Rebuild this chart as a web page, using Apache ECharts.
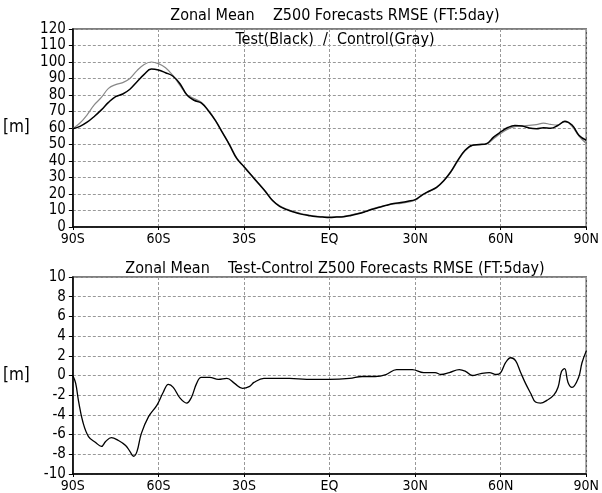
<!DOCTYPE html>
<html>
<head>
<meta charset="utf-8">
<script src="https://cdn.jsdelivr.net/npm/echarts@6/dist/echarts.min.js"></script>
<style>
  html, body { margin: 0; padding: 0; background: #fff; }
  #chart { width: 602px; height: 493px; }
</style>
</head>
<body>
<div id="chart"></div>
<script>
// latitude tick labels
const latTicks = { '-90': '90S', '-60': '60S', '-30': '30S', '0': 'EQ', '30': '30N', '60': '60N', '90': '90N' };

// top panel: RMSE (m), on a 2.5 degree grid
const latTop = [
  -90, -87.5, -85, -82.5, -80, -77.5, -75, -72.5, -70, -67.5, -65, -62.5, -60, -57.5, -55, -52.5,
  -50, -47.5, -45, -42.5, -40, -37.5, -35, -32.5, -30, -27.5, -25, -22.5, -20, -17.5, -15, -12.5,
  -10, -7.5, -5, -2.5, 0, 2.5, 5, 7.5, 10, 12.5, 15, 17.5, 20, 22.5, 25, 27.5,
  30, 32.5, 35, 37.5, 40, 42.5, 45, 47.5, 50, 52.5, 55, 57.5, 60, 62.5, 65, 67.5,
  70, 72.5, 75, 77.5, 80, 82.5, 85, 87.5, 90
];
const testRmse = [
  59.6, 61, 63.5, 67, 71, 75.5, 79, 80.6, 83.5, 88, 92.5, 95.8, 95.2, 93.5, 91.5, 87,
  80, 76.8, 75.2, 70.5, 64.5, 57, 49.5, 41.4, 36.5, 31.5, 26.5, 21.5, 16, 12.5, 10.5, 9,
  7.8, 7, 6.3, 6, 5.8, 6, 6.2, 7, 8, 9.3, 10.8, 12, 13.2, 14.2, 14.8, 15.6,
  16.6, 19.5, 21.8, 24, 28, 33.5, 40.5, 46.5, 49.6, 50, 50.5, 54.5, 57.6, 60.3, 61.5, 61.2,
  60, 59.6, 60.2, 59.8, 61.5, 64, 61.8, 55.5, 52.6
];
const controlRmse = [
  59.6, 63, 68, 74, 78.5, 84, 86.3, 87.5, 90, 94.8, 98.5, 100, 99, 96.5, 92, 86,
  80.2, 77.8, 75.6, 70.8, 64.7, 57.3, 49.8, 41.7, 36.8, 31.8, 26.8, 21.8, 16.3, 12.8, 10.8, 9.3,
  8.1, 7.3, 6.6, 6.3, 6.1, 6.3, 6.5, 7.3, 8.3, 9.5, 11, 12.2, 13.2, 14, 14.3, 15.1,
  16.2, 19.2, 21.6, 23.8, 27.8, 33.2, 40.1, 46.1, 49.3, 49.8, 50.3, 53.5, 56.6, 59.3, 60.8, 61.3,
  61.6, 62, 63, 62.2, 61.8, 64.3, 61, 55, 50.6
];

// bottom panel: Test - Control (m)
const latDiff = [
  -90, -89, -88, -86.5, -84.5, -82, -80, -78.5, -76.5, -74, -71.5, -70, -68.7, -67.5, -66, -63.5,
  -60.5, -58.3, -56.5, -54.8, -52.4, -50.1, -48.4, -46.6, -45, -42, -39, -36, -33.3, -30.5, -28, -26.5,
  -23, -20, -14, -8, 0, 7, 11.5, 16, 19.8, 23.5, 29, 33, 37, 39, 42, 45.5,
  47.8, 50, 53, 56, 58.5, 60, 61.7, 63.5, 65.2, 67, 68.7, 70.5, 72.2, 74, 76.3, 78.6,
  80.1, 81.3, 82.4, 83.6, 85, 87.3, 88.5, 90
];
const diffRmse = [
  0, -0.8, -2.6, -4.7, -6.2, -6.8, -7.2, -6.7, -6.3, -6.6, -7.1, -7.7, -8.2, -7.7, -5.9, -4.2,
  -3, -1.7, -0.9, -1.2, -2.3, -2.8, -2.2, -0.8, -0.2, -0.2, -0.4, -0.3, -0.8, -1.3, -1.1, -0.7,
  -0.3, -0.3, -0.3, -0.4, -0.4, -0.3, -0.1, -0.1, 0.1, 0.6, 0.6, 0.3, 0.3, 0.1, 0.3, 0.6,
  0.4, 0, 0.2, 0.3, 0.1, 0.3, 1.3, 1.8, 1.5, 0.3, -0.8, -1.8, -2.7, -2.8, -2.5, -2,
  -1.2, 0.4, 0.7, -0.7, -1.2, -0.2, 1.3, 2.5
];

const pairs = (xs, ys) => xs.map((x, i) => [x, ys[i]]);

const FONT = "'Liberation Sans Narrow', 'DejaVu Sans Condensed', sans-serif";
const gridLine = { lineStyle: { color: '#999', type: [3, 2], width: 1 } };

function xAxis(gridIndex) {
  return {
    type: 'value', gridIndex, min: -90, max: 90, interval: 30,
    axisLine: { onZero: false, lineStyle: { color: '#000', width: 1.5 } },
    axisTick: { show: true, length: 3, lineStyle: { color: '#000' } },
    axisLabel: { color: '#000', fontFamily: FONT, fontSize: 14, margin: 5, formatter: v => latTicks[String(v)] },
    splitLine: gridLine,
  };
}
function yAxis(gridIndex, min, max, interval) {
  return {
    type: 'value', gridIndex, min, max, interval,
    name: '[m]', nameLocation: 'middle', nameRotate: 0, nameGap: 43,
    nameTextStyle: { color: '#000', fontFamily: FONT, fontSize: 17, padding: [6, 0, 0, 0] },
    axisLine: { show: true, onZero: false, lineStyle: { color: '#000', width: 1.5 } },
    axisTick: { show: true, length: 4, lineStyle: { color: '#000' } },
    axisLabel: { color: '#000', fontFamily: FONT, fontSize: 15, margin: 7 },
    splitLine: gridLine,
  };
}

const chart = echarts.init(document.getElementById('chart'), null, { renderer: 'canvas' });
chart.setOption({
  backgroundColor: '#fff',
  animation: false,
  title: [
    { text: 'Zonal Mean    Z500 Forecasts RMSE (FT:5day)', left: 330, top: 3, textAlign: 'center',
      textStyle: { fontFamily: FONT, fontSize: 16, fontWeight: 'normal', color: '#000' } },
    { text: 'Test(Black)  /  Control(Gray)', left: 330, top: 27, textAlign: 'center',
      textStyle: { fontFamily: FONT, fontSize: 16, fontWeight: 'normal', color: '#000' } },
    { text: 'Zonal Mean    Test-Control Z500 Forecasts RMSE (FT:5day)', left: 330, top: 256, textAlign: 'center',
      textStyle: { fontFamily: FONT, fontSize: 16, fontWeight: 'normal', color: '#000' } },
  ],
  grid: [
    { left: 72, top: 29, width: 515, height: 198, show: true, borderColor: '#555', borderWidth: 1.5 },
    { left: 72, top: 277, width: 515, height: 200, show: true, borderColor: '#555', borderWidth: 1.5 },
  ],
  xAxis: [xAxis(0), xAxis(1)],
  yAxis: [yAxis(0, 0, 120, 10), yAxis(1, -10, 10, 2)],
  series: [
    { name: 'Control', type: 'line', xAxisIndex: 0, yAxisIndex: 0, data: pairs(latTop, controlRmse),
      smooth: 0.4, showSymbol: false, lineStyle: { color: '#888', width: 1.2 } },
    { name: 'Test', type: 'line', xAxisIndex: 0, yAxisIndex: 0, data: pairs(latTop, testRmse),
      smooth: 0.4, showSymbol: false, lineStyle: { color: '#000', width: 1.5 } },
    { name: 'Test-Control', type: 'line', xAxisIndex: 1, yAxisIndex: 1, data: pairs(latDiff, diffRmse),
      smooth: 0.4, showSymbol: false, lineStyle: { color: '#000', width: 1.3 } },
  ],
});
</script>
</body>
</html>
